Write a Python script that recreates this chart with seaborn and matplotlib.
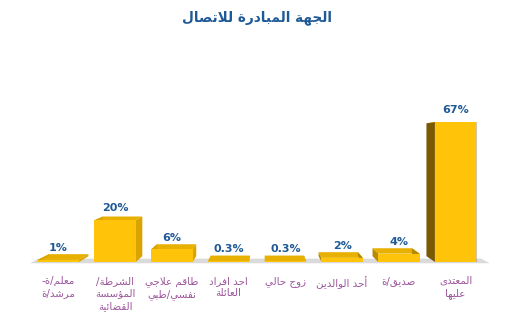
import matplotlib
matplotlib.use("Agg")
import matplotlib.pyplot as plt
from matplotlib.patches import Polygon
import seaborn as sns
import pandas as pd

# ---------------- data ----------------
categories = ["معلم/ة-\nمرشد/ة",
              "الشرطة/\nالمؤسسة\nالقضائية",
              "طاقم علاجي\nنفسي/طبي",
              "احد افراد\nالعائلة",
              "زوج حالي",
              "أحد الوالدين",
              "صديق/ة",
              "المعتدى\nعليها"]
values = [1, 20, 6, 0.3, 0.3, 2, 4, 67]
value_labels = ["1%", "20%", "6%", "0.3%", "0.3%", "2%", "4%", "67%"]
title = "الجهة المبادرة للاتصال"

# ---------------- minimal Arabic shaping (presentation forms + RTL order) ----------------
_SPEC = [('ء', 0xFE80, 1), ('آ', 0xFE81, 2), ('أ', 0xFE83, 2), ('ؤ', 0xFE85, 2),
         ('إ', 0xFE87, 2), ('ئ', 0xFE89, 4), ('ا', 0xFE8D, 2), ('ب', 0xFE8F, 4),
         ('ة', 0xFE93, 2), ('ت', 0xFE95, 4), ('ث', 0xFE99, 4), ('ج', 0xFE9D, 4),
         ('ح', 0xFEA1, 4), ('خ', 0xFEA5, 4), ('د', 0xFEA9, 2), ('ذ', 0xFEAB, 2),
         ('ر', 0xFEAD, 2), ('ز', 0xFEAF, 2), ('س', 0xFEB1, 4), ('ش', 0xFEB5, 4),
         ('ص', 0xFEB9, 4), ('ض', 0xFEBD, 4), ('ط', 0xFEC1, 4), ('ظ', 0xFEC5, 4),
         ('ع', 0xFEC9, 4), ('غ', 0xFECD, 4), ('ف', 0xFED1, 4), ('ق', 0xFED5, 4),
         ('ك', 0xFED9, 4), ('ل', 0xFEDD, 4), ('م', 0xFEE1, 4), ('ن', 0xFEE5, 4),
         ('ه', 0xFEE9, 4), ('و', 0xFEED, 2), ('ى', 0xFEEF, 2), ('ي', 0xFEF1, 4)]
_FORMS = {c: (s, n) for c, s, n in _SPEC}
_LAM_ALEF = {'آ': 0xFEF5, 'أ': 0xFEF7, 'إ': 0xFEF9, 'ا': 0xFEFB}


def _shape_line(s):
    units = []
    i = 0
    while i < len(s):
        c = s[i]
        if c == 'ل' and i + 1 < len(s) and s[i + 1] in _LAM_ALEF:
            units.append(('LA', s[i + 1]))
            i += 2
        else:
            units.append(('C', c))
            i += 1

    def jt(u):
        if u[0] == 'LA':
            return 2
        return _FORMS[u[1]][1] if u[1] in _FORMS else 0

    out = []
    for k, u in enumerate(units):
        t = jt(u)
        prev = units[k - 1] if k > 0 else None
        nxt = units[k + 1] if k + 1 < len(units) else None
        jp = t >= 2 and prev is not None and jt(prev) == 4
        jn = t == 4 and nxt is not None and jt(nxt) >= 2
        if u[0] == 'LA':
            out.append(chr(_LAM_ALEF[u[1]] + (1 if jp else 0)))
        elif t == 0:
            out.append(u[1])
        elif t == 1:
            out.append(chr(_FORMS[u[1]][0]))
        elif t == 2:
            out.append(chr(_FORMS[u[1]][0] + (1 if jp else 0)))
        else:
            idx = 3 if (jp and jn) else 1 if jp else 2 if jn else 0
            out.append(chr(_FORMS[u[1]][0] + idx))
    return ''.join(reversed(out))


def shape(s):
    return '\n'.join(_shape_line(l) for l in s.split('\n'))


# ---------------- figure ----------------
sns.set_theme(style="white")
plt.rcParams['font.family'] = ['DejaVu Sans']

W, H = 513, 325
fig = plt.figure(figsize=(W / 100, H / 100), dpi=100)
ax = fig.add_axes([30 / W, (H - 262) / H, 454 / W, 167 / H])

df = pd.DataFrame({"cat": range(len(values)), "val": values})
sns.barplot(data=df, x="cat", y="val", ax=ax, width=0.73, color="#FFC409",
            saturation=1, edgecolor="none", linewidth=0, zorder=5)

ax.set_xlim(-0.5, len(values) - 0.5)
ax.set_ylim(0, 80)

# pseudo-3D faces, derived from each bar patch (perspective toward a vanishing point)
vx, vy, k = 3.65, 56.0, 0.95


def back(px, py):
    return (vx + (px - vx) * k, vy + (py - vy) * k)


for p in list(ax.patches):
    x0, y0 = p.get_x(), p.get_y()
    x1, y1 = x0 + p.get_width(), y0 + p.get_height()
    cx = (x0 + x1) / 2
    side_col = "#D9A300" if cx < vx else "#7A5A00"
    if cx >= vx and p.get_height() < 10:
        side_col = "#B88A00"
    top = [(x0, y1), (x1, y1), back(x1, y1), back(x0, y1)]
    ax.add_patch(Polygon(top, closed=True, facecolor="#E8B000", edgecolor="none", zorder=3))
    left = [(x0, y0), (x0, y1), back(x0, y1), back(x0, y0)]
    ax.add_patch(Polygon(left, closed=True, facecolor=side_col, edgecolor="none", zorder=3))
    right = [(x1, y0), (x1, y1), back(x1, y1), back(x1, y0)]
    ax.add_patch(Polygon(right, closed=True, facecolor=side_col, edgecolor="none", zorder=3))

# floor shadow
floor = [(-0.5, -0.6), (len(values) - 0.4, -0.6), (len(values) - 0.55, 1.6), (-0.35, 1.6)]
ax.add_patch(Polygon(floor, closed=True, facecolor="#DADADA", edgecolor="none",
                     zorder=1, clip_on=False))

# value labels
for i, (v, lab) in enumerate(zip(values, value_labels)):
    ax.annotate(lab, (i, v), xytext=(0, 5), textcoords="offset points",
                ha="center", va="bottom", fontsize=8, fontweight="bold",
                color="#1F5A96", zorder=10)

# axes cosmetics
ax.set_xticks(range(len(values)))
ax.set_xticklabels([shape(c) for c in categories], fontsize=7.4, color="#9B559B",
                   linespacing=1.3, va="top")
ax.tick_params(axis="x", length=0, pad=10)
ax.set_yticks([])
ax.set_xlabel("")
ax.set_ylabel("")
for s in ax.spines.values():
    s.set_visible(False)
ax.patch.set_alpha(0)

fig.text(257 / W, 1 - 18 / H, shape(title), ha="center", va="center",
         fontsize=9.8, fontweight="bold", color="#1F5A96")

fig.savefig("out.png", dpi=100)
